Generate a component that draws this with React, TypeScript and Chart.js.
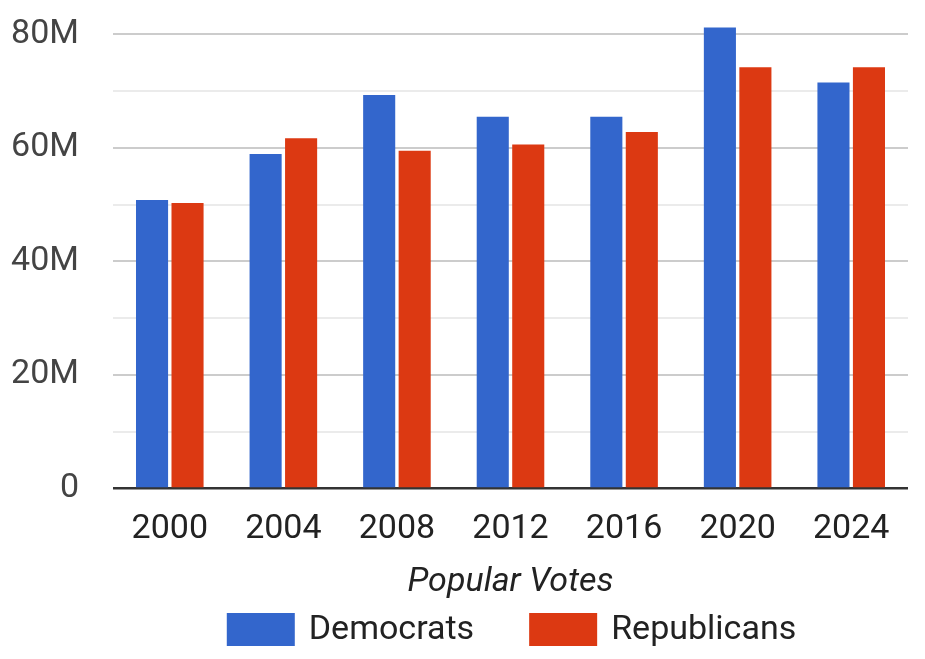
import React, { useEffect, useRef } from "react";
import { Chart, registerables } from "chart.js";

Chart.register(...registerables);

// values in millions of votes
const years = ["2000", "2004", "2008", "2012", "2016", "2020", "2024"];
const democrats = [50.8, 58.9, 69.3, 65.5, 65.5, 81.2, 71.5];
const republicans = [50.3, 61.7, 59.5, 60.6, 62.8, 74.2, 74.2];
const seriesNames = ["Democrats", "Republicans"];
const seriesColors = ["#3366cc", "#dc3912"];
const xTitle = "Popular Votes";

const FONT = "Roboto";
const FS = 34;

const bottomLegend = {
  id: "bottomLegend",
  afterDraw(chart: any) {
    const { ctx, chartArea } = chart;
    const boxW = 68;
    const boxH = 33;
    const gapText = 14;
    const gapItems = 55;
    ctx.save();
    ctx.font = `${FS}px ${FONT}`;
    ctx.textBaseline = "middle";
    ctx.textAlign = "left";
    const items = chart.data.datasets.map((d: any) => ({
      text: d.label,
      color: d.backgroundColor,
      w: boxW + gapText + ctx.measureText(d.label).width,
    }));
    const total =
      items.reduce((s: number, it: any) => s + it.w, 0) + gapItems * (items.length - 1);
    let x = (chartArea.left + chartArea.right) / 2 - total / 2 + 1;
    const top = chart.height - 46;
    items.forEach((it: any) => {
      ctx.fillStyle = it.color;
      ctx.fillRect(x, top, boxW, boxH);
      ctx.fillStyle = "#222222";
      ctx.fillText(it.text, x + boxW + gapText, top + boxH / 2 + 1);
      x += it.w + gapItems;
    });
    ctx.restore();
  },
};

export default function App() {
  const ref = useRef<HTMLCanvasElement | null>(null);

  useEffect(() => {
    if (!ref.current) return;
    const chart = new Chart(ref.current, {
      type: "bar",
      data: {
        labels: years,
        datasets: [
          {
            label: seriesNames[0],
            data: democrats,
            backgroundColor: seriesColors[0],
            categoryPercentage: 0.625,
            barPercentage: 0.904,
          },
          {
            label: seriesNames[1],
            data: republicans,
            backgroundColor: seriesColors[1],
            categoryPercentage: 0.625,
            barPercentage: 0.904,
          },
        ],
      },
      options: {
        responsive: false,
        animation: false,
        layout: { padding: { left: 10, right: 17, top: 23, bottom: 56 } },
        plugins: {
          legend: { display: false },
          tooltip: { enabled: false },
        },
        scales: {
          x: {
            grid: { display: false, drawTicks: false },
            border: { display: false },
            ticks: {
              font: { family: FONT, size: FS },
              color: "#222222",
              padding: 21,
            },
            title: {
              display: true,
              text: xTitle,
              font: { family: FONT, size: FS, style: "italic" },
              color: "#222222",
              padding: { top: -9, bottom: 0 },
            },
          },
          y: {
            min: 0,
            max: 82,
            border: { display: false },
            afterFit: (s: any) => {
              s.paddingTop = 0;
              s.paddingBottom = 0;
              s.width = 103;
            },
            grid: {
              drawTicks: false,
              color: (c: any) => {
                const v = c.tick ? Math.round(c.tick.value) : 0;
                if (v === 0) return "#333333";
                return v % 20 === 0 ? "#cccccc" : "#ebebeb";
              },
              lineWidth: (c: any) => {
                const v = c.tick ? Math.round(c.tick.value) : 0;
                return v === 0 ? 2.5 : 2;
              },
            },
            ticks: {
              stepSize: 10,
              includeBounds: false,
              padding: 34,
              font: { family: FONT, size: FS },
              color: "#444444",
              callback: (v: any) => {
                const n = Math.round(Number(v));
                if (n % 20 !== 0) return "";
                return n === 0 ? "0" : `${n}M`;
              },
            },
          },
        },
      },
      plugins: [bottomLegend],
    });
    return () => chart.destroy();
  }, []);

  return (
    <div style={{ position: "fixed", left: 0, top: 0, width: 925, height: 659, background: "#ffffff" }}>
      <canvas ref={ref} width={925} height={659} />
    </div>
  );
}
